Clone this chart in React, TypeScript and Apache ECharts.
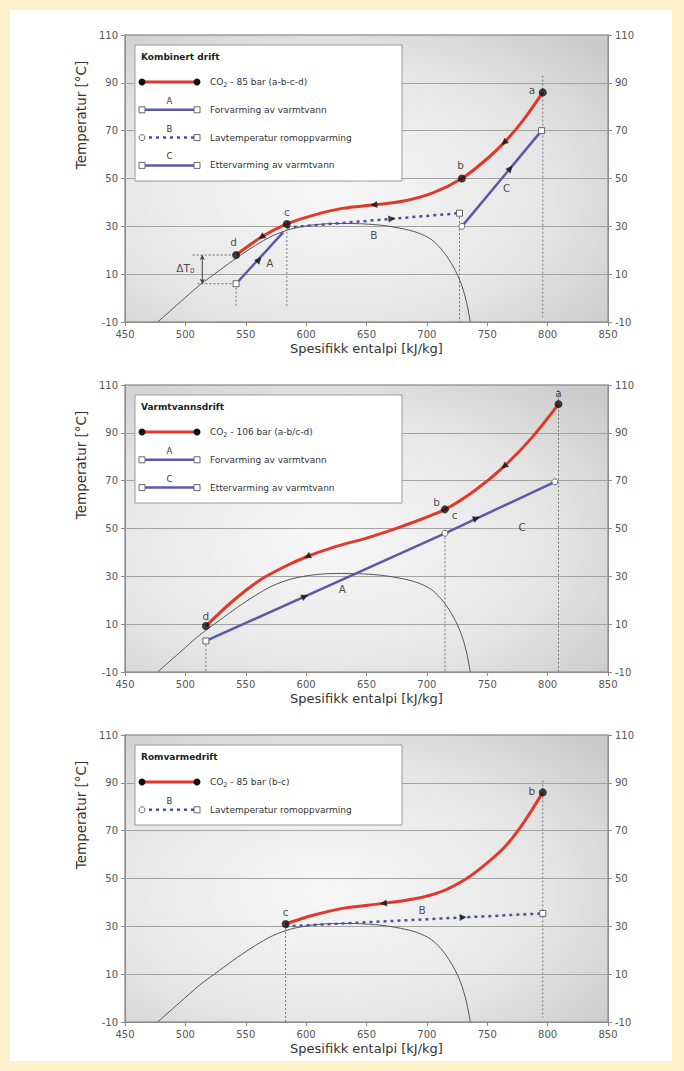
import React, { useEffect, useRef } from "react";
import * as echarts from "echarts";

const FONT = '"DejaVu Sans", Verdana, sans-serif';

// Axes
const xTicks = [450, 500, 550, 600, 650, 700, 750, 800, 850];
const yTicks = [-10, 10, 30, 50, 70, 90, 110];
const yGridLines = [10, 30, 50, 70, 90];

// CO2 saturation dome (liquid branch - critical point - vapour branch)
const domeH = [477, 495, 512, 528, 543, 558, 572, 587, 603, 618, 633, 648, 663, 678, 692, 704, 714, 722, 728, 732.5, 736];
const domeT = [-10, -2, 5.5, 11.5, 17, 22, 26, 28.8, 30.4, 31.1, 31.2, 31.0, 30.4, 29.2, 27.4, 24.4, 19.2, 13, 6.5, -1, -10];

// ---- Kombinert drift ----
const kombCo2H = [542, 563, 584, 605, 630, 656, 680, 705, 729, 747, 764, 780, 796];
const kombCo2T = [18, 25.5, 31, 34.5, 37.5, 39, 40.5, 44, 50, 57, 65, 74.5, 86];
const kombStateH = [542, 584, 729, 796];
const kombStateT = [18, 31, 50, 86];
const kombCo2ArrowH = [563, 656, 764];
const kombCo2ArrowT = [25.5, 39, 65];
const kombAH = [542, 581];
const kombAT = [6, 27.5];
const kombBH = [584, 727];
const kombBT = [29.5, 35.5];
const kombCH = [729, 795];
const kombCT = [30, 70];
const kombWaterArrowH = [561, 671, 769];
const kombWaterArrowT = [16, 33.2, 54.2];
const kombDropH = [542, 584, 727, 796];
const kombDropTop = [6, 31, 35.5, 93];
const kombDropBottom = [-4, -4, -10, -8];
const kombDtH = [506, 542, 510, 542, 514, 514];
const kombDtT = [18, 18, 6, 6, 18, 6];
const kombLabelText = ["d", "c", "b", "a", "A", "B", "C", "ΔT{sub|0}"];
const kombLabelH = [540, 584, 728, 787, 570, 656, 766, 500];
const kombLabelT = [23.5, 35.8, 55.6, 87, 14.7, 26.4, 46, 12.6];

// ---- Varmtvannsdrift ----
const vvCo2H = [517, 540, 562, 582, 601, 625, 650, 680, 715, 740, 764, 787, 809];
const vvCo2T = [9.2, 20, 28.5, 34, 38.3, 42.5, 46, 51, 58, 66, 76, 88, 102];
const vvStateH = [517, 715, 809];
const vvStateT = [9.2, 58, 102];
const vvCo2ArrowH = [601, 764];
const vvCo2ArrowT = [38.3, 76];
const vvAH = [517, 715];
const vvAT = [3, 48];
const vvCH = [715, 806];
const vvCT = [48, 69.5];
const vvWaterArrowH = [599, 741];
const vvWaterArrowT = [21.6, 54.3];
const vvDropH = [517, 715, 809];
const vvDropTop = [3, 48, 108];
const vvDropBottom = [-10, -10, -10];
const vvLabelText = ["d", "b", "c", "a", "A", "C"];
const vvLabelH = [517, 708, 723, 809, 630, 779];
const vvLabelT = [13.5, 61, 55.5, 106.7, 24.6, 50.8];

// ---- Romvarmedrift ----
const romCo2H = [583, 605, 630, 664, 690, 712, 733, 750, 766, 781, 796];
const romCo2T = [31, 34.5, 37.5, 39.6, 41.5, 44.5, 50, 56.5, 64, 74, 86];
const romStateH = [583, 796];
const romStateT = [31, 86];
const romCo2ArrowH = [664];
const romCo2ArrowT = [39.6];
const romBH = [583, 796];
const romBT = [30, 35.4];
const romWaterArrowH = [730];
const romWaterArrowT = [33.8];
const romDropH = [583, 796];
const romDropTop = [31, 91];
const romDropBottom = [-10, -8];
const romLabelText = ["c", "b", "B"];
const romLabelH = [583, 787, 696];
const romLabelT = [35.8, 86.7, 37];

// Legends
const legendTitles = ["Kombinert drift", "Varmtvannsdrift", "Romvarmedrift"];
const kombLegend = [
  { kind: "co2", letter: "", text: "CO{sub|2} - 85 bar (a-b-c-d)" },
  { kind: "solid", letter: "A", text: "Forvarming av varmtvann" },
  { kind: "dashed", letter: "B", text: "Lavtemperatur romoppvarming" },
  { kind: "solid", letter: "C", text: "Ettervarming av varmtvann" },
];
const vvLegend = [
  { kind: "co2", letter: "", text: "CO{sub|2} - 106 bar (a-b/c-d)" },
  { kind: "solid", letter: "A", text: "Forvarming av varmtvann" },
  { kind: "solid", letter: "C", text: "Ettervarming av varmtvann" },
];
const romLegend = [
  { kind: "co2", letter: "", text: "CO{sub|2} - 85 bar (b-c)" },
  { kind: "dashed", letter: "B", text: "Lavtemperatur romoppvarming" },
];

const RED = "#e0392b";
const BLUE = "#5b58a8";
const DASHBLUE = "#4d4e9e";
const INK = "#111";

const GRID_LEFT = 125;
const GRID_W = 483;
const GRID_H = 287;
const gridTops = [35, 385, 735];

const PX_H = GRID_W / 400;
const PX_T = GRID_H / 120;

const pts = (h: number[], t: number[]) => h.map((v, i) => [v, t[i]]);

// screen angle (deg, counter-clockwise) of a polyline near a given x
function screenAngle(h: number[], t: number[], at: number) {
  let i = 0;
  while (i < h.length - 2 && h[i + 1] < at) i++;
  const dx = (h[i + 1] - h[i]) * PX_H;
  const dy = (t[i + 1] - t[i]) * PX_T;
  return (Math.atan2(dy, dx) * 180) / Math.PI;
}

function axes(gi: number) {
  return gi * 2;
}

function domeSeries(gi: number) {
  return {
    type: "line",
    xAxisIndex: gi,
    yAxisIndex: axes(gi),
    data: pts(domeH, domeT),
    smooth: 0.3,
    showSymbol: false,
    symbol: "none",
    silent: true,
    z: 2,
    lineStyle: { color: "#555", width: 1 },
    markLine: {
      silent: true,
      symbol: "none",
      label: { show: false },
      lineStyle: { color: "#a2a2a2", type: "solid", width: 1 },
      data: yGridLines.map((v) => ({ yAxis: v })),
      z: 1,
    },
  };
}

function co2Series(gi: number, h: number[], t: number[]) {
  return {
    type: "line",
    xAxisIndex: gi,
    yAxisIndex: axes(gi),
    data: pts(h, t),
    smooth: 0.3,
    showSymbol: false,
    symbol: "none",
    silent: true,
    z: 4,
    lineStyle: { color: RED, width: 3 },
  };
}

function waterSeries(gi: number, h: number[], t: number[], dashed: boolean, startSym: string, endSym: string) {
  return {
    type: "line",
    xAxisIndex: gi,
    yAxisIndex: axes(gi),
    data: [
      { value: [h[0], t[0]], symbol: startSym },
      { value: [h[1], t[1]], symbol: endSym },
    ],
    showSymbol: true,
    symbolSize: 6,
    silent: true,
    z: 3,
    itemStyle: { color: "#fff", borderColor: "#666", borderWidth: 1 },
    lineStyle: dashed
      ? { color: DASHBLUE, width: 2.5, type: [3, 4] }
      : { color: BLUE, width: 2.5 },
  };
}

function dropSeries(gi: number, h: number[], top: number[], bottom: number[]) {
  return h.map((x, i) => ({
    type: "line",
    xAxisIndex: gi,
    yAxisIndex: axes(gi),
    data: [
      [x, top[i]],
      [x, bottom[i]],
    ],
    showSymbol: false,
    symbol: "none",
    silent: true,
    z: 2,
    lineStyle: { color: "#777", width: 1, type: [2, 2] },
  }));
}

function stateSeries(gi: number, h: number[], t: number[]) {
  return {
    type: "scatter",
    xAxisIndex: gi,
    yAxisIndex: axes(gi),
    data: pts(h, t),
    symbol: "circle",
    symbolSize: 8,
    silent: true,
    z: 6,
    itemStyle: { color: INK },
  };
}

function arrowSeries(gi: number, h: number[], t: number[], lineH: number[], lineT: number[], backwards: boolean) {
  return {
    type: "scatter",
    xAxisIndex: gi,
    yAxisIndex: axes(gi),
    data: h.map((x, i) => {
      const a = screenAngle(lineH, lineT, x);
      return { value: [x, t[i]], symbolRotate: backwards ? a + 90 : a - 90 };
    }),
    symbol: "triangle",
    symbolSize: 7,
    silent: true,
    z: 6,
    itemStyle: { color: INK },
  };
}

function labelSeries(gi: number, text: string[], h: number[], t: number[]) {
  return {
    type: "scatter",
    xAxisIndex: gi,
    yAxisIndex: axes(gi),
    data: h.map((x, i) => ({ value: [x, t[i]], name: text[i] })),
    symbol: "circle",
    symbolSize: 1,
    silent: true,
    z: 7,
    itemStyle: { color: "rgba(0,0,0,0)" },
    label: {
      show: true,
      position: "inside",
      formatter: "{b}",
      color: "#222",
      fontSize: 10.5,
      fontFamily: FONT,
      rich: { sub: { fontSize: 7, fontFamily: FONT, color: "#222", padding: [7, 0, 0, 0] } },
    },
  };
}

function dtSeries(gi: number) {
  const dotted = { color: "#666", width: 1, type: [2, 2] };
  return [
    {
      type: "line",
      xAxisIndex: gi,
      yAxisIndex: axes(gi),
      data: [
        [kombDtH[0], kombDtT[0]],
        [kombDtH[1], kombDtT[1]],
      ],
      showSymbol: false,
      symbol: "none",
      silent: true,
      z: 2,
      lineStyle: dotted,
    },
    {
      type: "line",
      xAxisIndex: gi,
      yAxisIndex: axes(gi),
      data: [
        [kombDtH[2], kombDtT[2]],
        [kombDtH[3], kombDtT[3]],
      ],
      showSymbol: false,
      symbol: "none",
      silent: true,
      z: 2,
      lineStyle: dotted,
    },
    {
      type: "line",
      xAxisIndex: gi,
      yAxisIndex: axes(gi),
      data: [
        { value: [kombDtH[4], kombDtT[4]], symbolRotate: 0 },
        { value: [kombDtH[5], kombDtT[5]], symbolRotate: 180 },
      ],
      showSymbol: true,
      symbol: "arrow",
      symbolSize: [4, 5],
      silent: true,
      z: 2,
      itemStyle: { color: "#444" },
      lineStyle: { color: "#444", width: 1 },
    },
  ];
}

function legendGraphic(gi: number, rows: { kind: string; letter: string; text: string }[]) {
  const top = gridTops[gi];
  const bx = 135;
  const by = top + 10;
  const els: any[] = [];
  els.push({
    type: "rect",
    z: 100,
    shape: { x: bx, y: by, width: 267, height: 24 + rows.length * 28 },
    style: { fill: "#fff", stroke: "#9a9a9a", lineWidth: 1 },
    silent: true,
  });
  els.push({
    type: "text",
    z: 101,
    x: bx + 6,
    y: top + 22,
    silent: true,
    style: { text: legendTitles[gi], fontSize: 9, fontWeight: "bold", fontFamily: FONT, fill: "#222", align: "left", verticalAlign: "middle" },
  });
  rows.forEach((r, i) => {
    const y = top + 47 + i * 27.8;
    const x1 = 142;
    const x2 = 197;
    if (r.kind === "co2") {
      els.push({ type: "line", z: 101, silent: true, shape: { x1, y1: y, x2, y2: y }, style: { stroke: RED, lineWidth: 3 } });
      els.push({ type: "circle", z: 102, silent: true, shape: { cx: x1, cy: y, r: 3.5 }, style: { fill: INK } });
      els.push({ type: "circle", z: 102, silent: true, shape: { cx: x2, cy: y, r: 3.5 }, style: { fill: INK } });
    } else {
      const dashed = r.kind === "dashed";
      els.push({
        type: "line",
        z: 101,
        silent: true,
        shape: { x1, y1: y, x2, y2: y },
        style: { stroke: dashed ? DASHBLUE : BLUE, lineWidth: 2.5, lineDash: dashed ? [3, 4] : null },
      });
      if (dashed) {
        els.push({ type: "circle", z: 102, silent: true, shape: { cx: x1, cy: y, r: 3 }, style: { fill: "#fff", stroke: "#666", lineWidth: 1 } });
      } else {
        els.push({ type: "rect", z: 102, silent: true, shape: { x: x1 - 3, y: y - 3, width: 6, height: 6 }, style: { fill: "#fff", stroke: "#666", lineWidth: 1 } });
      }
      els.push({ type: "rect", z: 102, silent: true, shape: { x: x2 - 3, y: y - 3, width: 6, height: 6 }, style: { fill: "#fff", stroke: "#666", lineWidth: 1 } });
      els.push({
        type: "text",
        z: 102,
        silent: true,
        x: (x1 + x2) / 2,
        y: y - 9,
        style: { text: r.letter, fontSize: 8.5, fontFamily: FONT, fill: "#333", align: "center", verticalAlign: "middle" },
      });
    }
    els.push({
      type: "text",
      z: 101,
      silent: true,
      x: 210,
      y,
      style: {
        text: r.text,
        fontSize: 9,
        fontFamily: FONT,
        fill: "#333",
        align: "left",
        verticalAlign: "middle",
        rich: { sub: { fontSize: 6.5, fontFamily: FONT, fill: "#333", padding: [6, 0, 0, 0] } },
      },
    });
  });
  els.push({
    type: "text",
    z: 101,
    silent: true,
    x: 81,
    y: top + 80,
    rotation: Math.PI / 2,
    style: { text: "Temperatur [°C]", fontSize: 13.5, fontFamily: FONT, fill: "#333", align: "center", verticalAlign: "middle" },
  });
  return els;
}

function buildOption() {
  const bg = new echarts.graphic.RadialGradient(0.42, 0.55, 0.75, [
    { offset: 0, color: "#f7f7f7" },
    { offset: 0.6, color: "#e6e6e6" },
    { offset: 1, color: "#cbcbcb" },
  ]);
  const axisGray = "#8c8c8c";
  const grid = gridTops.map((top) => ({
    left: GRID_LEFT,
    top,
    width: GRID_W,
    height: GRID_H,
    show: true,
    backgroundColor: bg,
    borderColor: "#9a9a9a",
    borderWidth: 1.5,
  }));
  const xAxis = gridTops.map((_, gi) => ({
    type: "value",
    gridIndex: gi,
    min: xTicks[0],
    max: xTicks[xTicks.length - 1],
    interval: xTicks[1] - xTicks[0],
    axisLine: { show: true, onZero: false, lineStyle: { color: axisGray } },
    axisTick: { show: true, length: 4, lineStyle: { color: axisGray } },
    axisLabel: { color: "#555", fontSize: 10, fontFamily: FONT, margin: 7 },
    splitLine: { show: false },
    name: "Spesifikk entalpi [kJ/kg]",
    nameLocation: "middle",
    nameGap: 20,
    nameTextStyle: { color: "#333", fontSize: 13, fontFamily: FONT },
  }));
  const yAxis: any[] = [];
  gridTops.forEach((_, gi) => {
    (["left", "right"] as const).forEach((pos) => {
      yAxis.push({
        type: "value",
        gridIndex: gi,
        position: pos,
        min: yTicks[0],
        max: yTicks[yTicks.length - 1],
        axisLine: { show: true, onZero: false, lineStyle: { color: axisGray } },
        axisTick: { show: true, length: 4, customValues: yTicks, lineStyle: { color: axisGray } },
        axisLabel: { show: true, customValues: yTicks, color: "#555", fontSize: 10, fontFamily: FONT, margin: 7 },
        splitLine: { show: false },
      });
    });
  });

  const series: any[] = [
    // Kombinert drift
    domeSeries(0),
    ...dropSeries(0, kombDropH, kombDropTop, kombDropBottom),
    ...dtSeries(0),
    waterSeries(0, kombAH, kombAT, false, "rect", "none"),
    waterSeries(0, kombBH, kombBT, true, "none", "rect"),
    waterSeries(0, kombCH, kombCT, false, "circle", "rect"),
    co2Series(0, kombCo2H, kombCo2T),
    stateSeries(0, kombStateH, kombStateT),
    arrowSeries(0, kombCo2ArrowH, kombCo2ArrowT, kombCo2H, kombCo2T, true),
    arrowSeries(0, [kombWaterArrowH[0]], [kombWaterArrowT[0]], kombAH, kombAT, false),
    arrowSeries(0, [kombWaterArrowH[1]], [kombWaterArrowT[1]], kombBH, kombBT, false),
    arrowSeries(0, [kombWaterArrowH[2]], [kombWaterArrowT[2]], kombCH, kombCT, false),
    labelSeries(0, kombLabelText, kombLabelH, kombLabelT),
    // Varmtvannsdrift
    domeSeries(1),
    ...dropSeries(1, vvDropH, vvDropTop, vvDropBottom),
    waterSeries(1, vvAH, vvAT, false, "rect", "circle"),
    waterSeries(1, vvCH, vvCT, false, "none", "circle"),
    co2Series(1, vvCo2H, vvCo2T),
    stateSeries(1, vvStateH, vvStateT),
    arrowSeries(1, vvCo2ArrowH, vvCo2ArrowT, vvCo2H, vvCo2T, true),
    arrowSeries(1, [vvWaterArrowH[0]], [vvWaterArrowT[0]], vvAH, vvAT, false),
    arrowSeries(1, [vvWaterArrowH[1]], [vvWaterArrowT[1]], vvCH, vvCT, false),
    labelSeries(1, vvLabelText, vvLabelH, vvLabelT),
    // Romvarmedrift
    domeSeries(2),
    ...dropSeries(2, romDropH, romDropTop, romDropBottom),
    waterSeries(2, romBH, romBT, true, "none", "rect"),
    co2Series(2, romCo2H, romCo2T),
    stateSeries(2, romStateH, romStateT),
    arrowSeries(2, romCo2ArrowH, romCo2ArrowT, romCo2H, romCo2T, true),
    arrowSeries(2, romWaterArrowH, romWaterArrowT, romBH, romBT, false),
    labelSeries(2, romLabelText, romLabelH, romLabelT),
  ];

  const graphic = [
    ...legendGraphic(0, kombLegend),
    ...legendGraphic(1, vvLegend),
    ...legendGraphic(2, romLegend),
  ];

  return {
    animation: false,
    textStyle: { fontFamily: FONT },
    grid,
    xAxis,
    yAxis,
    series,
    graphic,
  };
}

export default function App() {
  const ref = useRef<HTMLDivElement>(null);
  useEffect(() => {
    if (!ref.current) return;
    const chart = echarts.init(ref.current, null, { renderer: "svg" });
    chart.setOption(buildOption() as any);
    return () => chart.dispose();
  }, []);
  return (
    <div style={{ position: "fixed", left: 0, top: 0, width: 684, height: 1071, background: "#fbf0c9" }}>
      <div style={{ position: "absolute", left: 10, top: 10, width: 662, height: 1051, background: "#ffffff" }} />
      <div ref={ref} style={{ position: "absolute", left: 0, top: 0, width: 684, height: 1071 }} />
    </div>
  );
}
